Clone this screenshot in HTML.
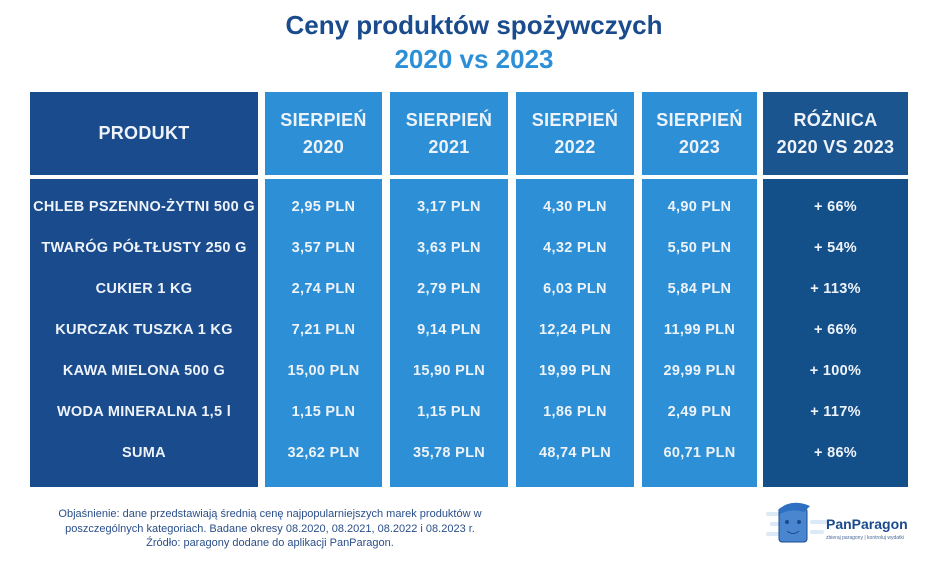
<!DOCTYPE html>
<html><head><meta charset="utf-8"><style>
body{margin:0;width:948px;height:562px;background:#fff;font-family:"Liberation Sans",sans-serif;position:relative;overflow:hidden}
.a{position:absolute}
.t{position:absolute;left:0;width:948px;text-align:center;font-weight:bold}
.col{position:absolute;color:#eef3fa;font-weight:bold;text-align:center}
.h{top:92px;height:83px;display:flex;align-items:center;justify-content:center;font-size:18px;line-height:27px;letter-spacing:0.3px}
.b{top:179px;height:308px}
.r{position:absolute;left:0;width:100%;font-size:14.5px;transform:translateY(-50%);letter-spacing:0.3px}
.note{position:absolute;left:30px;top:507px;width:480px;text-align:center;font-size:11px;color:#2a4f8a;line-height:14.5px}
</style></head><body>
<div class="t" style="top:10px;font-size:26px;color:#1a4b8c">Ceny produktów spożywczych</div>
<div class="t" style="top:44px;font-size:26px;color:#2d90d6">2020 vs 2023</div>
<div id="tbl"></div>
<div class="note">Objaśnienie: dane przedstawiają średnią cenę najpopularniejszych marek produktów w poszczególnych kategoriach. Badane okresy 08.2020, 08.2021, 08.2022 i 08.2023 r.<br>Źródło: paragony dodane do aplikacji PanParagon.</div>
<div class="a" style="left:766px;top:500px;width:160px;height:50px">
<svg width="160" height="50"><g fill="#dce9f6"><rect x="0" y="12" width="30" height="4" rx="2"/><rect x="4" y="22" width="26" height="4" rx="2"/><rect x="0" y="32" width="30" height="4" rx="2"/><rect x="44" y="20" width="18" height="4" rx="2"/><rect x="44" y="30" width="14" height="4" rx="2"/></g>
<rect x="13" y="8" width="28" height="34" rx="3" fill="#4a86d0" stroke="#1a4b8c"/><path d="M12 10 Q25 -2 44 6 L38 12 Q26 8 14 14Z" fill="#2d6fc0"/>
<circle cx="21" cy="22" r="2" fill="#1a4b8c"/><circle cx="33" cy="22" r="2" fill="#1a4b8c"/><path d="M21 31 Q27 36 33 31" stroke="#1a4b8c" fill="none"/>
<text x="60" y="29" font-family="Liberation Sans" font-weight="bold" font-size="14" fill="#1a4b8c">PanParagon</text>
<text x="60" y="39" font-family="Liberation Sans" font-size="5" fill="#4a6a9a">zbieraj paragony | kontroluj wydatki</text></svg></div>
<script>
const products=["CHLEB PSZENNO-ŻYTNI 500 G","TWARÓG PÓŁTŁUSTY 250 G","CUKIER 1 KG","KURCZAK TUSZKA 1 KG","KAWA MIELONA 500 G","WODA MINERALNA 1,5 l","SUMA"];
const p2020=["2,95","3,57","2,74","7,21","15,00","1,15","32,62"];
const p2021=["3,17","3,63","2,79","9,14","15,90","1,15","35,78"];
const p2022=["4,30","4,32","6,03","12,24","19,99","1,86","48,74"];
const p2023=["4,90","5,50","5,84","11,99","29,99","2,49","60,71"];
const diff=["+ 66%","+ 54%","+ 113%","+ 66%","+ 100%","+ 117%","+ 86%"];
const cols=[
 {n:"product",x:30,w:228,hc:"#1a4b8c",bc:"#1a4b8c",head:"PRODUKT",vals:products},
 {n:"aug-2020",x:265,w:117,hc:"#2d90d6",bc:"#2d90d6",head:"SIERPIEŃ<br>2020",vals:p2020.map(v=>v+" PLN")},
 {n:"aug-2021",x:390,w:118,hc:"#2d90d6",bc:"#2d90d6",head:"SIERPIEŃ<br>2021",vals:p2021.map(v=>v+" PLN")},
 {n:"aug-2022",x:516,w:118,hc:"#2d90d6",bc:"#2d90d6",head:"SIERPIEŃ<br>2022",vals:p2022.map(v=>v+" PLN")},
 {n:"aug-2023",x:642,w:115,hc:"#2d90d6",bc:"#2d90d6",head:"SIERPIEŃ<br>2023",vals:p2023.map(v=>v+" PLN")},
 {n:"difference",x:763,w:145,hc:"#1a5590",bc:"#135089",head:"RÓŻNICA<br>2020 VS 2023",vals:diff}];
const tbl=document.getElementById('tbl');
cols.forEach(c=>{
 const h=document.createElement('div');h.className='col h';
 
 
 h.style.cssText=`left:${c.x}px;width:${c.w}px;background:${c.hc}`;h.innerHTML=c.head;tbl.appendChild(h);
 const b=document.createElement('div');b.className='col b';
 
 
 b.style.cssText=`left:${c.x}px;width:${c.w}px;background:${c.bc}`;
 c.vals.forEach((v,i)=>{const r=document.createElement('div');r.className='r';
  
  
  r.style.top=(28+i*41)+'px';r.textContent=v;b.appendChild(r);});
 tbl.appendChild(b);});
</script>
</body></html>
